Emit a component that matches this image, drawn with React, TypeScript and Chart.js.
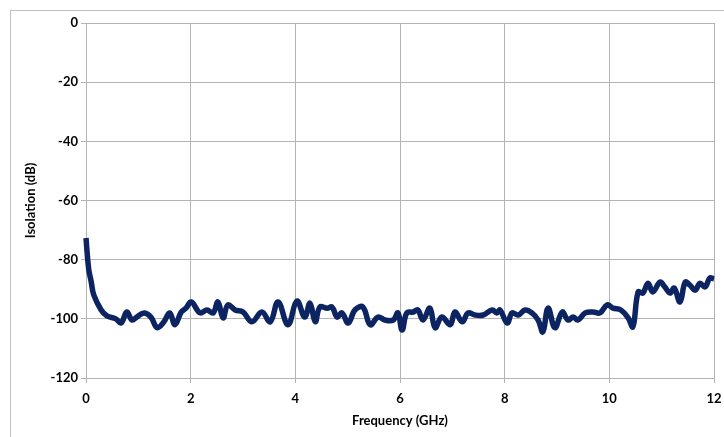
import React, { useEffect, useRef } from "react";
import { Chart, registerables } from "chart.js";

Chart.register(...registerables);

const frequencyGHz = [
  0.0, 0.05, 0.1, 0.15, 0.29, 0.4, 0.57, 0.67, 0.78, 0.88, 0.97, 1.11, 1.24, 1.36, 1.49, 1.6, 1.7, 1.82, 1.91,
  2.01, 2.18, 2.31, 2.43, 2.52, 2.62, 2.71, 2.85, 3.0, 3.17, 3.36, 3.52, 3.67, 3.86, 4.03, 4.18, 4.28, 4.38,
  4.47, 4.61, 4.7, 4.8, 4.89, 5.01, 5.14, 5.29, 5.43, 5.58, 5.71, 5.87, 5.96, 6.04, 6.13, 6.25, 6.34, 6.44,
  6.57, 6.67, 6.8, 6.96, 7.05, 7.19, 7.3, 7.43, 7.59, 7.76, 7.85, 7.91, 8.05, 8.14, 8.26, 8.39, 8.52, 8.64,
  8.73, 8.83, 8.96, 9.1, 9.21, 9.31, 9.4, 9.54, 9.69, 9.82, 9.96, 10.07, 10.22, 10.36, 10.45, 10.55, 10.64,
  10.74, 10.83, 10.97, 11.06, 11.16, 11.24, 11.35, 11.45, 11.54, 11.64, 11.73, 11.83, 11.92, 12.0,
];

const isolationDb = [
  -72.7, -83, -87.5, -92, -97, -99, -100, -101.4, -97.7, -100.4, -99.4, -98, -99.4, -103, -101, -98, -102, -97.7, -96.4,
  -94.3, -98, -97, -98, -94.3, -99.7, -95.3, -97, -97.7, -101, -97.7, -101, -94.3, -102, -94, -99.4, -94.7, -101,
  -96, -96.4, -96, -99.4, -98, -101.4, -97, -96, -102, -99.4, -100.4, -100.4, -98, -103.8, -98, -97.7, -97, -100.4,
  -96.4, -103, -99.4, -102, -97.7, -101, -98, -98.7, -98.7, -97, -98, -97, -101.4, -98, -98.7, -97, -98, -100.4,
  -104.4, -96.4, -103, -97.7, -100.4, -99.4, -100.4, -98, -97.7, -98, -95.3, -96.4, -97, -99.7, -102.7, -90.9, -91.3,
  -88, -90.9, -87.6, -89.2, -91.3, -89.6, -94.3, -87.6, -88.6, -90.3, -88, -89.2, -86.2, -86.5,
];

const xTitle = "Frequency (GHz)";
const yTitle = "Isolation (dB)";

export default function App() {
  const ref = useRef<HTMLCanvasElement | null>(null);

  useEffect(() => {
    if (!ref.current) return;
    const font = { family: "Lato, 'Liberation Sans', sans-serif", size: 13, weight: "bold" as const };
    const gridColor = "#b4b4b4";
    const chart = new Chart(ref.current, {
      type: "line",
      data: {
        datasets: [
          {
            data: frequencyGHz.map((f, i) => ({ x: f, y: isolationDb[i] })),
            borderColor: "#0c2461",
            borderWidth: 5.5,
            pointRadius: 0,
            tension: 0.4,
            fill: false,
            clip: 4,
          },
        ],
      },
      options: {
        animation: false,
        responsive: false,
        layout: { padding: { left: 0, right: 10, top: 23, bottom: 0 } },
        plugins: { legend: { display: false }, tooltip: { enabled: false } },
        scales: {
          x: {
            type: "linear",
            min: 0,
            max: 12,
            ticks: { stepSize: 2, color: "#000", font, padding: 8, maxRotation: 0 },
            grid: { color: gridColor, tickLength: 5, lineWidth: 1 },
            border: { color: gridColor },
            title: { display: true, text: xTitle, color: "#000", font, padding: { top: 0, bottom: 8 } },
            afterFit: (s: any) => {
              s.height = 59;
              s.paddingLeft = 0;
              s.paddingRight = 0;
            },
          },
          y: {
            min: -120,
            max: 0,
            ticks: { stepSize: 20, color: "#000", font, padding: 3 },
            grid: { color: gridColor, tickLength: 5, lineWidth: 1 },
            border: { color: gridColor },
            title: { display: true, text: yTitle, color: "#000", font, padding: { top: 23, bottom: 0 } },
            afterFit: (s: any) => {
              s.width = 86;
              s.paddingTop = 0;
              s.paddingBottom = 0;
            },
          },
        },
      },
    });
    return () => chart.destroy();
  }, []);

  return (
    <div style={{ position: "fixed", left: 0, top: 0, width: 724, height: 437, background: "#fff" }}>
      <div
        style={{
          position: "absolute",
          left: 10,
          top: 10,
          width: 730,
          height: 440,
          border: "1px solid #bfbfbf",
          boxSizing: "border-box",
        }}
      />
      <canvas ref={ref} width={724} height={437} style={{ position: "absolute", left: 0, top: 0, display: "block" }} />
    </div>
  );
}
